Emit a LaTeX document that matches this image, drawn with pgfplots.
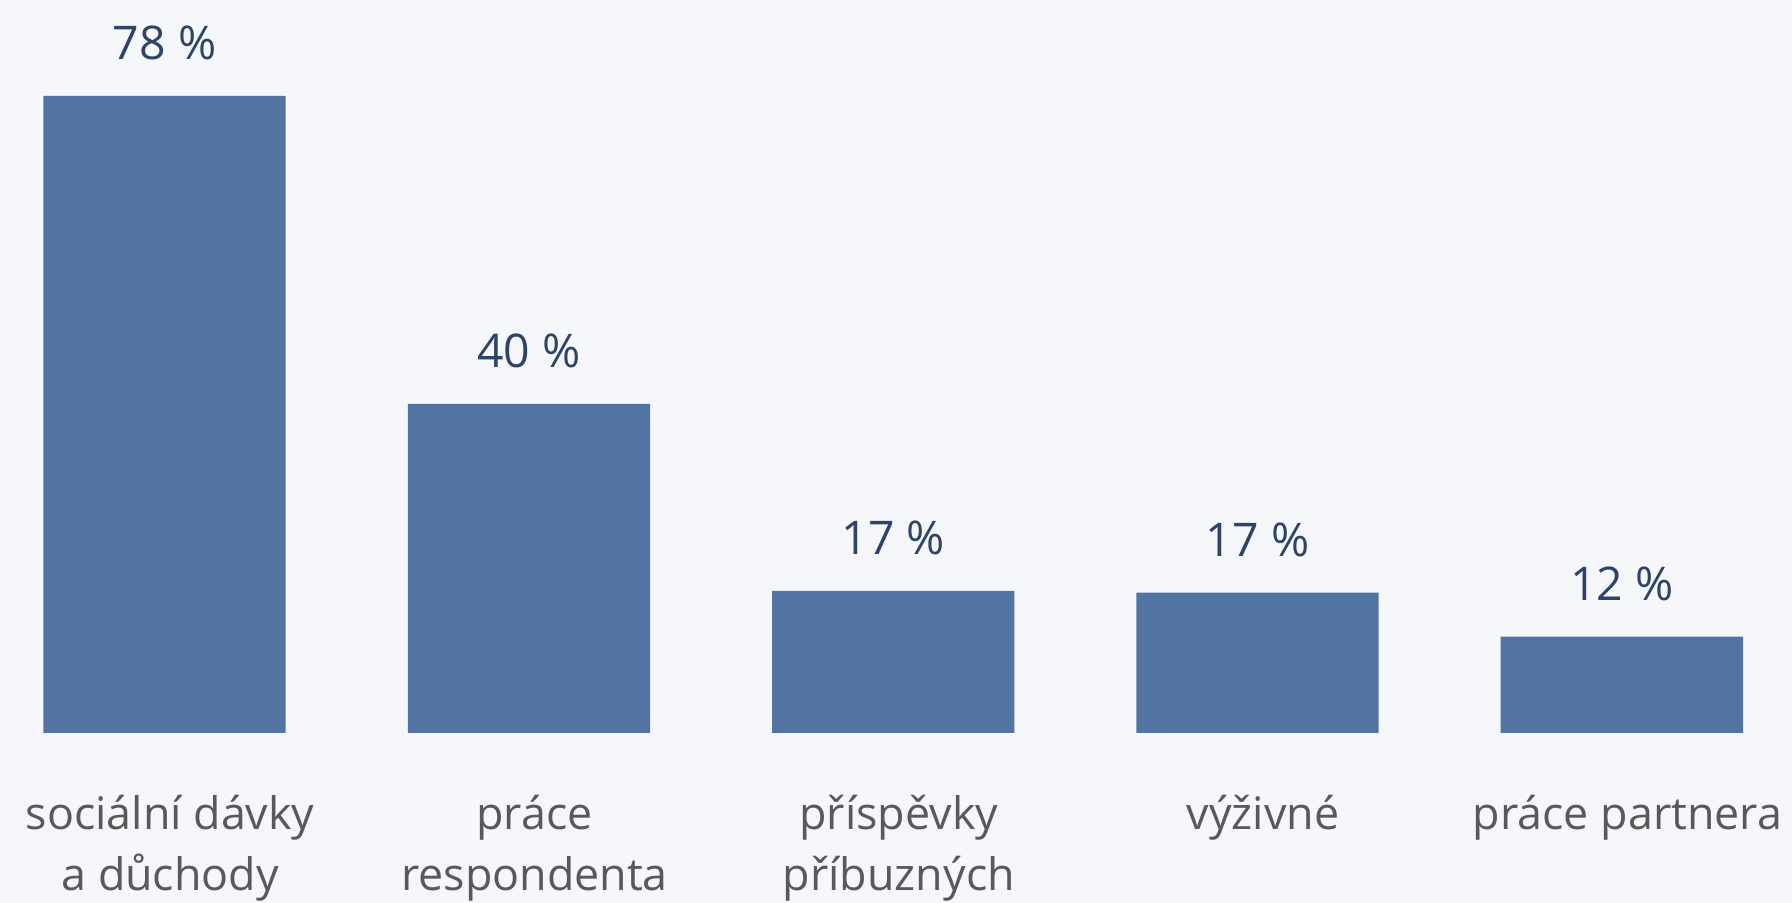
\documentclass[border=0pt]{standalone}
\usepackage{fontspec}
\setmainfont{Open Sans}
\usepackage{pgfplots}
\pgfplotsset{compat=1.18}
\definecolor{bg}{HTML}{F5F7FB}
\definecolor{barc}{HTML}{5274A2}
\definecolor{valc}{HTML}{2E4466}
\definecolor{labc}{HTML}{595959}
\begin{document}
\begin{tikzpicture}
\fill[bg] (0,0) rectangle (896pt,451.5pt);
\begin{axis}[
  at={(0pt,85pt)}, anchor=south west,
  scale only axis, width=896pt, height=366.5pt,
  xmin=-0.4518, xmax=4.467, ymin=0, ymax=89.75,
  axis line style={draw=none},
  major tick length=0pt, tick style={draw=none},
  ytick=\empty,
  xtick={0,1,2,3,4},
  xticklabels={{\strut sociální dávky\\a důchody},{\strut práce\\respondenta},{\strut příspěvky\\příbuzných},{\strut výživné},{\strut práce partnera}},
  xticklabel style={align=center, inner sep=0pt, yshift=-26.7pt, xshift=2.8pt, text=labc, font=\fontsize{22.4}{30.5}\selectfont},
  clip=false,
  point meta=explicit symbolic,
  nodes near coords={\pgfplotspointmeta~\%},
  nodes near coords style={anchor=center, yshift=26.5pt, text=valc, font=\fontsize{23.2}{28}\selectfont},
]
\addplot[ybar, bar width=0.665, fill=barc, draw=none] coordinates {
  (0,78) [78]
  (1,40.3) [40]
  (2,17.4) [17]
  (3,17.2) [17]
  (4,11.8) [12]
};
\end{axis}
\pgfresetboundingbox
\useasboundingbox (0,0) rectangle (896pt,451.5pt);
\end{tikzpicture}
\end{document}
